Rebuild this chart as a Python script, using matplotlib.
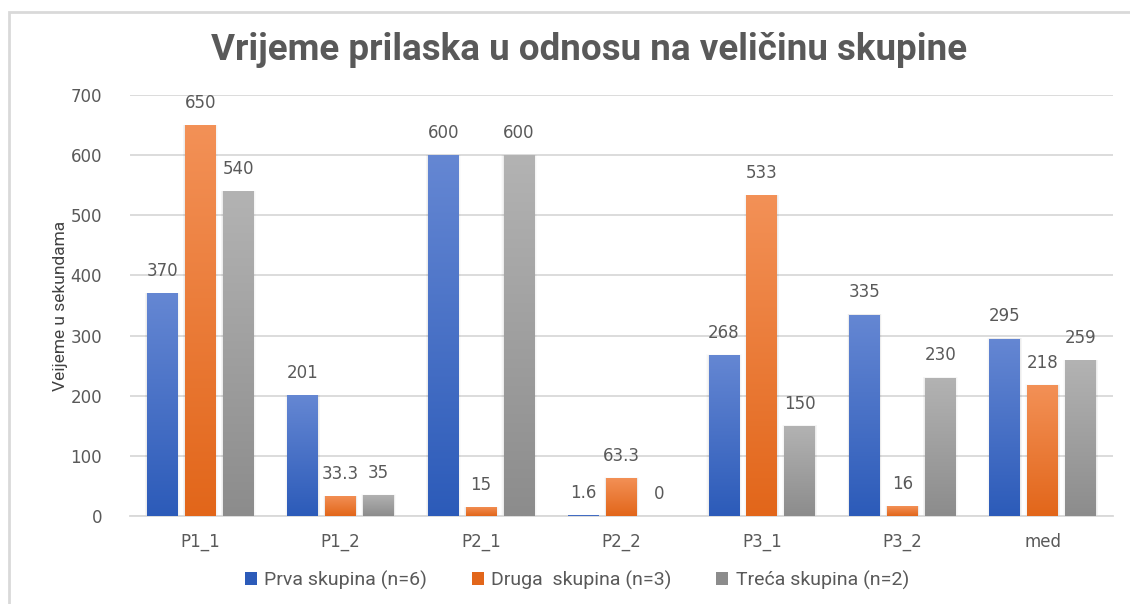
import matplotlib
matplotlib.use("Agg")
import matplotlib.pyplot as plt
import numpy as np
from matplotlib.patches import Rectangle
from matplotlib.colors import LinearSegmentedColormap

categories = ["P1_1", "P1_2", "P2_1", "P2_2", "P3_1", "P3_2", "med"]
series_names = ["Prva skupina (n=6)", "Druga  skupina (n=3)", "Treća skupina (n=2)"]
prva = [370, 201, 600, 1.6, 268, 335, 295]
druga = [650, 33.3, 15, 63.3, 533, 16, 218]
treca = [540, 35, 600, 0, 150, 230, 259]
value_labels = [
    ["370", "201", "600", "1.6", "268", "335", "295"],
    ["650", "33.3", "15", "63.3", "533", "16", "218"],
    ["540", "35", "600", "0", "150", "230", "259"],
]
yticks = [0, 100, 200, 300, 400, 500, 600, 700]

narrow = "Roboto"
wide = "DejaVu Sans"

fig = plt.figure(figsize=(11.3, 6.04), dpi=100)
fig.patch.set_facecolor("white")
ax = fig.add_axes([130/1130, 1-516/604, (1113-130)/1130, (516-95)/604])

# outer frame
fig.add_artist(Rectangle((9/1130, -0.1), 1.2, 1.1 - 12/604, transform=fig.transFigure,
                         fill=False, edgecolor="#d9d9d9", linewidth=2))

grads = [("#6587d3", "#2c5bb9"), ("#f39157", "#e2661a"), ("#b3b3b3", "#8c8c8c")]
offsets = [-0.27, 0.0, 0.27]
width = 0.22
x = np.arange(len(categories))
data = [prva, druga, treca]

ax.set_xlim(-0.5, len(categories) - 0.5)
ax.set_ylim(0, 700)

grad = np.linspace(1, 0, 256).reshape(-1, 1)
for si, vals in enumerate(data):
    bars = ax.bar(x + offsets[si], vals, width, color="none", edgecolor="none", zorder=3,
                  label=series_names[si])
    cmap = LinearSegmentedColormap.from_list("g%d" % si, [grads[si][1], grads[si][0]])
    for b in bars:
        h = b.get_height()
        if h <= 0:
            continue
        x0 = b.get_x()
        if h > 5:
            for k, a in enumerate([0.035, 0.025, 0.015]):
                s = (k + 1) * 0.005
                ax.add_patch(Rectangle((x0 - s, 0), b.get_width() + 2 * s, h + s * 50,
                                       facecolor="black", edgecolor="none", alpha=a, zorder=2))
        im = ax.imshow(grad, extent=(x0, x0 + b.get_width(), 0, h), aspect="auto",
                       cmap=cmap, zorder=3, interpolation="bilinear")
        im.set_clip_path(b)
    for i, v in enumerate(vals):
        ax.text(x[i] + offsets[si], v + 22, value_labels[si][i], ha="center", va="bottom",
                fontsize=12, color="#595959", family=[wide], zorder=5)

ax.set_xlim(-0.5, len(categories) - 0.5)
ax.set_ylim(0, 700)
ax.set_yticks(yticks)
ax.set_yticklabels([str(t) for t in yticks], fontsize=12, color="#595959", family=[wide])
ax.set_xticks(x)
ax.set_xticklabels(categories, fontsize=12, color="#595959", family=[wide])
ax.tick_params(axis="x", length=0, pad=12)
ax.tick_params(axis="y", length=0, pad=20)
ax.grid(axis="y", color="#d9d9d9", linewidth=1.3, zorder=0)
ax.set_axisbelow(True)
for s in ["top", "right", "left"]:
    ax.spines[s].set_visible(False)
ax.spines["bottom"].set_color("#d9d9d9")
ax.spines["bottom"].set_linewidth(1.3)

ax.set_ylabel("Veijeme u sekundama", fontsize=12.5, color="#404040", family=[narrow, wide], labelpad=2)

fig.text(589/1130, 1 - 50/604, "Vrijeme prilaska u odnosu na veličinu skupine",
         ha="center", va="center", fontsize=26.5, fontweight="semibold", color="#595959",
         family=[narrow, wide])

handles = [Rectangle((0, 0), 1, 1, facecolor=c[1]) for c in grads]
leg = fig.legend(handles, series_names, loc="center", bbox_to_anchor=(577/1130, 1 - 580/604),
                 ncol=3, frameon=False, handlelength=0.6, handleheight=0.6, handletextpad=0.4,
                 columnspacing=2.3, prop={"family": [narrow, wide], "size": 14})
for t in leg.get_texts():
    t.set_color("#595959")

fig.savefig("out.png", dpi=100, facecolor="white")
